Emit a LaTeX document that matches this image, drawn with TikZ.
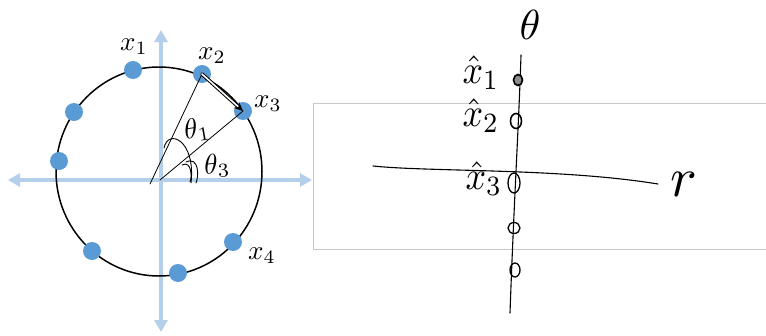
\documentclass[tikz,border=0pt]{standalone}
\usepackage{graphicx}
\usetikzlibrary{arrows.meta,shapes.geometric}
\definecolor{axisblue}{RGB}{180,207,233}
\definecolor{dotblue}{RGB}{91,155,213}
\newcommand{\sbx}[2]{\scalebox{#1}{#2}}
\begin{document}
\begin{tikzpicture}[x=1pt,y=-1pt,
  axis/.style={draw=axisblue,line width=4pt,{Triangle[length=12pt,width=13pt]}-{Triangle[length=12pt,width=13pt]}},
  dot/.style={circle,fill=dotblue,minimum size=18pt,inner sep=0pt},
  lab/.style={inner sep=0pt},
  hand/.style={draw=black,line width=1.1pt,line cap=round,line join=round},
  ring/.style={draw=black,line width=1.3pt,ellipse,inner sep=0pt},
  hlab/.style={inner sep=0pt}]
\useasboundingbox (0,0) rectangle (766,335);
% right rectangle
\draw[draw=black!22,line width=0.8pt] (313,103) -- (770,103) (313,103) -- (313,249) -- (770,249);
% axes
\coordinate (hl) at (8,180); \coordinate (hr) at (312,180);
\coordinate (vt) at (161,30); \coordinate (vb) at (161,332);
\draw[axis] (hl) -- (hr);
\draw[axis] (vb) -- (vt);
% circle
\node[draw=black,line width=1.5pt,ellipse,minimum width=206pt,minimum height=209pt,inner sep=0pt] (circ) at (159,171.5) {};
% dots
\node[dot] (d1) at (133,70) {};
\node[dot] (d2) at (202,74) {};
\node[dot] (d3) at (243,111) {};
\node[dot] (d4) at (74,112) {};
\node[dot] (d5) at (59,161) {};
\node[dot] (d6) at (92,251) {};
\node[dot] (d7) at (178,273) {};
\node[dot] (d8) at (233,242) {};
% labels
\node[lab] (l1) at (134,47) {\sbx{2.7}{$x_1$}};
\node[lab] (l2) at (212,56) {\sbx{2.7}{$x_2$}};
\node[lab] (l3) at (268,104) {\sbx{2.7}{$x_3$}};
\node[lab] (l4) at (262,256) {\sbx{2.7}{$x_4$}};
% handwritten angle lines
\coordinate (o1) at (150,184);
\coordinate (o2) at (160,180);
\draw[hand,line width=0.8pt] (o1) -- (d2.center);
\draw[hand,line width=0.8pt] (o2) -- (d3.center);
\draw[hand,line width=1pt,double,double distance=1.6pt,-{Stealth[length=9pt,width=8pt]}] (d2.center) -- (d3.center);
% angle arcs
\draw[hand,line width=0.9pt] (164,148) .. controls (168,128) and (196,140) .. (191,183);
\draw[hand,line width=0.9pt] (186,162) .. controls (199,156) and (199,176) .. (196,183);
\draw[hand,line width=0.9pt] (182,165) .. controls (192,160) and (192,178) .. (190,182);
\node[inner sep=0pt,rotate=10] (t1) at (197,130) {\sbx{2.8}{$\theta_1$}};
\node[inner sep=0pt,rotate=5] (t3) at (217,166) {\sbx{2.8}{$\theta_3$}};
% right handwritten sketch
\coordinate (vtop) at (521,55);
\coordinate (vbot) at (510,313);
\draw[hand] (vtop) .. controls (519,120) and (514,200) .. (vbot);
\coordinate (rl) at (373,166);
\coordinate (rr) at (658,184);
\draw[hand] (rl) .. controls (430,172) and (560,168) .. (rr);
\node[ring,line width=1.6pt,minimum width=9pt,minimum height=11pt,fill=black!45] (c1) at (518,80) {};
\node[ring,line width=1.6pt,minimum width=11pt,minimum height=15pt] (c2) at (516,121) {};
\node[ring,minimum width=12pt,minimum height=20pt] (c3) at (514,183) {};
\node[ring,minimum width=12pt,minimum height=11pt] (c4) at (514,228) {};
\node[ring,minimum width=10pt,minimum height=14pt] (c5) at (515,270) {};
\node[inner sep=0pt] (th) at (530,25) {\sbx{4.2}{$\theta$}};
\node[inner sep=0pt] (r) at (684,184) {\sbx{5.6}{$r$}};
\node[hlab] (h1) at (481,73) {\scalebox{3.6}[4.0]{$\hat{x}_1$}};
\node[hlab] (h2) at (481,116) {\scalebox{3.6}[4.0]{$\hat{x}_2$}};
\node[hlab] (h3) at (484,179) {\scalebox{3.6}[4.0]{$\hat{x}_3$}};
\end{tikzpicture}
\end{document}
